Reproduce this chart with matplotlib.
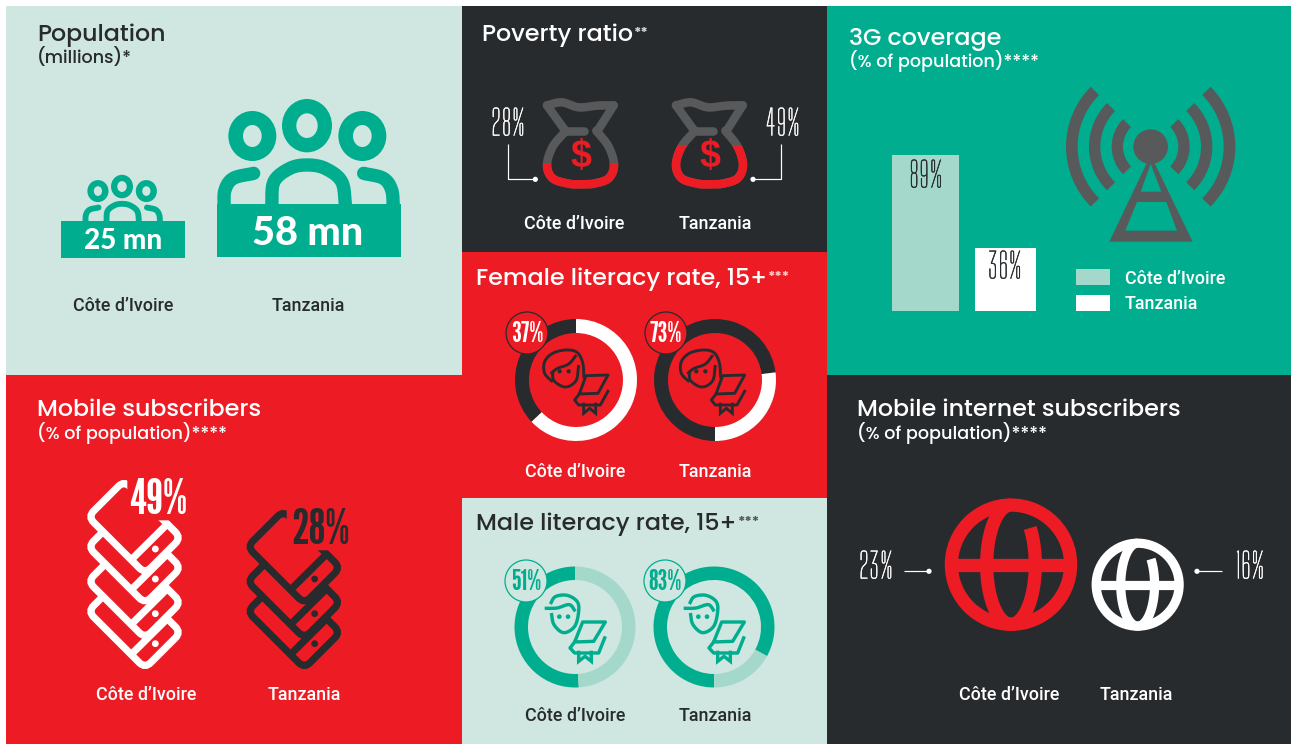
import numpy as np
import matplotlib
matplotlib.use("Agg")
import matplotlib.pyplot as plt
import matplotlib.patheffects as pe
from matplotlib.patches import Rectangle, Ellipse, Circle, Wedge, PathPatch, Polygon
from matplotlib.path import Path
import logging
logging.getLogger("matplotlib.font_manager").setLevel(logging.ERROR)

# ---------- data ----------
countries = ["Côte d’Ivoire", "Tanzania"]
population_mn = [25, 58]
poverty_pct = [28, 49]
female_literacy_pct = [37, 73]
male_literacy_pct = [51, 83]
coverage_3g_pct = [89, 36]
mobile_subs_pct = [49, 28]
mobile_internet_pct = [23, 16]

W, H = 1291, 744
DARK, RED, GREEN, LIGHT, MINT, GREY = "#282b2e", "#ed1c24", "#00ae8f", "#cfe7e0", "#a4d8cb", "#58595b"

NARROW = ["Big Shoulders Display", "Antonio", "Pathway Gothic One", "Roboto Condensed", "Liberation Sans"]
HEAVY = ["League Gothic", "Anton", "Roboto Condensed", "Liberation Sans"]
HEAD = ["Poppins", "Inter", "DejaVu Sans"]
LAB = ["Roboto", "Lato", "DejaVu Sans"]
NUM = ["Lato", "DejaVu Sans"]

fig = plt.figure(figsize=(W / 100, H / 100), dpi=100, facecolor="white")
bg = fig.add_axes([0, 0, 1, 1], zorder=0)
ov = fig.add_axes([0, 0, 1, 1], zorder=2)
for a in (bg, ov):
    a.set_xlim(0, W)
    a.set_ylim(H, 0)
    a.axis("off")
ov.patch.set_alpha(0)


def px_axes(x0, y0, x1, y1):
    a = fig.add_axes([x0 / W, 1 - y1 / H, (x1 - x0) / W, (y1 - y0) / H], zorder=1)
    a.patch.set_alpha(0)
    return a


LW = 0.72  # pixels to points


def smooth(pts, closed=False, n=14):
    p = np.asarray(pts, float)
    if closed:
        q = np.vstack([p[-1], p, p[0], p[1]])
    else:
        q = np.vstack([2 * p[0] - p[1], p, 2 * p[-1] - p[-2]])
    out = []
    for i in range(1, len(q) - 2):
        for t in np.linspace(0, 1, n, endpoint=False):
            out.append(0.5 * ((2 * q[i]) + (-q[i - 1] + q[i + 1]) * t
                              + (2 * q[i - 1] - 5 * q[i] + 4 * q[i + 1] - q[i + 2]) * t ** 2
                              + (-q[i - 1] + 3 * q[i] - 3 * q[i + 1] + q[i + 2]) * t ** 3))
    out.append(q[-2])
    return np.array(out)


def z(pts, ox, oy, dx=0, dy=0):
    return np.array([(ox + (x + dx) / 3, oy + (y + dy) / 3) for x, y in pts])


def stroke(xy, color, w, cap="butt", join="round", clip=None, zo=3):
    ln, = ov.plot(xy[:, 0], xy[:, 1], color=color, lw=w * LW, solid_capstyle=cap,
                  solid_joinstyle=join, zorder=zo)
    if clip is not None:
        ln.set_clip_path(clip)
    return ln


def label(x, y, s, color, size=12.9, ha="center", **kw):
    return ov.text(x, y, s, color=color, fontsize=size, ha=ha, va="baseline",
                   family=LAB, fontweight="medium", zorder=8, **kw)


def title(x, y, s, color, size=17.1, stars=None, star_color=None):
    t = ov.text(x, y, s, color=color, fontsize=size, ha="left", va="baseline",
                family=HEAD, fontweight="medium", zorder=8)
    if stars:
        ov.annotate(stars, xy=(1, 0.85), xycoords=t, xytext=(1, 0), textcoords="offset points",
                    ha="left", va="top", fontsize=10, color=star_color or color,
                    family=HEAD, fontweight="bold", zorder=8)
    return t


def sub(x, y, s, color):
    return ov.text(x, y, s, color=color, fontsize=12.7, ha="left", va="baseline",
                   family=HEAD, fontweight="medium", zorder=8)


def thin(x, y, s, color, size=25):
    return ov.text(x, y, s, color=color, fontsize=size, ha="center", va="center", family=NARROW, zorder=8,
                   path_effects=[pe.withStroke(linewidth=0.35, foreground=color)])


# ---------- panels ----------
for (x0, y0, x1, y1, c) in [(6, 6, 462, 375, LIGHT), (462, 6, 827, 252, DARK), (462, 252, 827, 498, RED),
                            (462, 498, 827, 744, LIGHT), (827, 6, 1291, 375, GREEN),
                            (6, 375, 462, 744, RED), (827, 375, 1291, 744, DARK)]:
    bg.add_patch(Rectangle((x0, y0), x1 - x0, y1 - y0, fc=c, ec="none"))

# ---------- population ----------
title(37, 41, "Population", DARK)
sub(37, 63, "(millions)*", DARK)


def people(cx, base, s, rect, val, fsize, tx, ty):
    c = GREEN
    for dx, dy, rx, ry, ix, iy in [(-164, -204, 72, 75, 28, 33), (166, -204, 72, 75, 28, 33),
                                   (0, -235, 75, 80, 32, 37)]:
        X, Y = cx + dx * s / 3, base + dy * s / 3
        ov.add_patch(Ellipse((X, Y), 2 * rx * s / 3, 2 * ry * s / 3, fc=c, ec="none", zorder=3))
        ov.add_patch(Ellipse((X, Y), 2 * ix * s / 3, 2 * iy * s / 3, fc=LIGHT, ec="none", zorder=3))
    w = 40 * s / 3
    for pts, cap in (([(-106, 8), (-99, -67), (-51, -107), (0, -117), (54, -107), (104, -67), (116, 8)], "butt"),
                     ([(-249, 8), (-246, -42), (-221, -77), (-160, -92)], "round"),
                     ([(259, 8), (254, -42), (229, -77), (170, -92)], "round")):
        q = [(cx + a * s / 3, base + b * s / 3) for a, b in pts]
        stroke(smooth(q), c, w, cap=cap)
    ov.add_patch(Rectangle((rect[0], rect[1]), rect[2] - rect[0], rect[3] - rect[1], fc=c, ec="none", zorder=4))
    ov.text(tx, ty, f"{val} mn", color="white", fontsize=fsize, ha="center", va="baseline",
            family=NUM, fontweight="black", zorder=8)


people(307, 204, 1.0, (217, 204, 401, 257), population_mn[1], 28.5, 308, 245)
people(122, 221, 0.44, (61, 221, 185, 258), population_mn[0], 20, 123, 249)
label(123, 311, countries[0], DARK)
label(308, 311, countries[1], DARK)

# ---------- poverty ----------
title(482, 41, "Poverty ratio", "white", stars="**", star_color="#d8d8d8")
BAG_TOP, BAG_BOT = 298, 565
bag_strokes = [
    smooth([(255, 316), (300, 307), (350, 322), (405, 317), (455, 316)]),
    np.array([(255, 316), (312, 395)], float),
    np.array([(455, 316), (405, 395)], float),
    np.array([(305, 392), (367, 392)], float),
    smooth([(312, 392), (272, 440), (255, 495), (272, 535), (320, 551), (355, 553),
            (395, 551), (440, 535), (456, 495), (440, 440), (403, 392)]),
]
for i, (off, v) in enumerate(zip([0, 387], poverty_pct)):
    level = BAG_BOT / 3 - v / 100 * (BAG_BOT - BAG_TOP) / 3
    clip = Rectangle((0, level), W, 400, transform=ov.transData)
    for s in bag_strokes:
        xy = z(s, 462, 0, dx=off)
        stroke(xy, GREY, 8.5, cap="round")
        stroke(xy, RED, 8.5, cap="round", clip=clip, zo=4)
    ov.text(581 + off / 3, 157, "$", color=RED, fontsize=27, ha="center", va="center",
            family="Liberation Sans", fontweight="bold", zorder=5)
conn = [[(137, 432), (137, 538), (220, 538)], [(957, 432), (957, 538), (873, 538)]]
for pts, (tx, v) in zip(conn, [(508, poverty_pct[0]), (783, poverty_pct[1])]):
    xy = z(pts, 462, 0)
    stroke(xy, "white", 1.2, join="miter")
    ov.add_patch(Circle(xy[-1], 2.6, fc="white", ec="none", zorder=5))
    thin(tx, 125, f"{v}%", "white")
label(574, 229, countries[0], "white")
label(715, 229, countries[1], "white")


# ---------- literacy donuts ----------
def donut(cx, cy, r, w, v, i, c_on, c_off):
    a = px_axes(cx - r, cy - r, cx + r, cy + r)
    a.pie([v, 100 - v], colors=[c_on, c_off], startangle=[90, 270][i], counterclock=i == 0,
          radius=1, wedgeprops=dict(width=w / r, linewidth=0))
    a.set_xlim(-1, 1)
    a.set_ylim(-1, 1)


def badge(x, y, v, fc, ec, tc):
    ov.add_patch(Circle((x, y), 21, fc=fc, ec=ec, lw=0.9, zorder=5))
    ov.text(x, y + 0.5, f"{v}%", color=tc, fontsize=20, ha="center", va="center", family=HEAVY, zorder=8)


def book(off, O, c, outline, ribbon, w):
    stroke(z(outline, *O, dx=off), c, w, join="round")
    stroke(z(ribbon, *O, dx=off), c, w, join="miter")


def female_icon(off):
    c = DARK
    O = (462, 250)
    hair = smooth([(272, 396), (248, 370), (248, 335), (272, 310), (312, 300), (345, 307), (362, 338), (366, 385)])
    face = smooth([(272, 362), (276, 392), (310, 411), (342, 392), (350, 345)])
    bang = smooth([(266, 372), (285, 356), (320, 342), (343, 315)])
    for s in (hair, face, bang):
        stroke(z(s, *O, dx=off), c, 2.9)
    for ex in (293, 320):
        ov.add_patch(Circle(tuple(z([(ex + off, 364)], *O)[0]), 2.1, fc=c, ec="none", zorder=5))
    book(off, O, c, [(352, 432), (372, 377), (438, 375), (408, 430), (352, 432), (338, 450), (350, 465), (415, 465), (440, 420)],
         [(365, 458), (365, 490), (383, 475), (401, 490), (401, 458)], 2.9)


def male_icon(off):
    c = GREEN
    O = (462, 498)
    face = smooth([(268, 345), (276, 380), (305, 404), (338, 385), (350, 340), (345, 310), (315, 292),
                   (280, 296), (265, 318)])
    swoosh = smooth([(248, 331), (285, 330), (322, 320), (340, 340)])
    for s in (face, swoosh):
        stroke(z(s, *O, dx=off), c, 3.4)
    for ex in (292, 318):
        ov.add_patch(Circle(tuple(z([(ex + off, 356)], *O)[0]), 2.3, fc=c, ec="none", zorder=5))
    book(off, O, c, [(338, 432), (362, 372), (430, 372), (395, 430), (338, 432), (324, 450), (338, 465), (410, 465), (430, 415)],
         [(350, 458), (350, 490), (369, 475), (388, 490), (388, 458)], 3.4)


title(476, 285, "Female literacy rate, 15+", "white", stars="***", star_color="#f8cfcf")
for i, (cx, v) in enumerate(zip([576, 715], female_literacy_pct)):
    donut(cx, 380, 61, 14, v, i, DARK, "white")
    badge([527, 666][i], 333, v, RED, DARK, "white")
    female_icon([0, 410][i])
    label([575, 715][i], 477, countries[i], "white")

title(476, 530, "Male literacy rate, 15+", DARK, stars="***", star_color="#555555")
for i, (cx, v) in enumerate(zip([575, 714], male_literacy_pct)):
    donut(cx, 627, 60.5, 13.5, v, i, GREEN, MINT)
    badge([526, 665][i], 581, v, LIGHT, GREEN, GREEN)
    male_icon([0, 417][i])
    label([575, 715][i], 721, countries[i], DARK)

# ---------- 3G ----------
title(849, 45, "3G coverage", "white")
sub(849, 67, "(% of population)****", "white")
bar_ax = px_axes(892, 155, 1036, 311)
bar_ax.bar([33.5, 113], coverage_3g_pct, width=[67, 61], color=[MINT, "white"], linewidth=0)
bar_ax.set_xlim(0, 144)
bar_ax.set_ylim(0, coverage_3g_pct[0])
bar_ax.axis("off")
for x, y, v in zip([926, 1005], [177, 268], coverage_3g_pct):
    thin(x, y, f"{v}%", DARK)

tc = (827 + 971 / 3, 440 / 3)
for ro, ri in [(254, 219), (185, 151), (117, 83)]:
    for a0, a1 in [(135, 225), (-45, 45)]:
        ov.add_patch(Wedge(tc, ro / 3, a0, a1, width=(ro - ri) / 3, fc=GREY, ec="none", zorder=3))
ov.add_patch(Polygon(z([(971, 465), (847, 725), (1097, 725)], 827, 0), fc=GREY, ec="none", zorder=3))
for hole in ([(971, 492), (1003, 575), (941, 575)], [(930, 606), (1018, 606), (1050, 692), (895, 692)]):
    ov.add_patch(Polygon(z(hole, 827, 0), fc=GREEN, ec="none", zorder=4))
ov.add_patch(Circle(tc, 52 / 3, fc=GREY, ec="none", zorder=5))
for (y0, y1), c, s, by in zip([(269, 285), (295, 311)], [MINT, "white"], countries, [284, 309]):
    ov.add_patch(Rectangle((1076, y0), 34, y1 - y0, fc=c, ec="none", zorder=3))
    label(1125, by, s, "white", ha="left")

# ---------- mobile subscribers ----------
title(37, 416, "Mobile subscribers", "white")
sub(37, 439, "(% of population)****", "white")


def rounded(pts, r):
    p = np.asarray(pts, float)
    verts, codes = [], []
    n = len(p)
    for i in range(n):
        a, b, c = p[i - 1], p[i], p[(i + 1) % n]
        u = (a - b) / np.linalg.norm(a - b)
        v = (c - b) / np.linalg.norm(c - b)
        verts += [b + u * r, b, b + v * r]
        codes += [Path.MOVETO if i == 0 else Path.LINETO, Path.CURVE3, Path.CURVE3]
    verts.append(verts[0])
    codes.append(Path.CLOSEPOLY)
    return Path(verts, codes)


def phone(dx, dy, col, top=False):
    O = (0, 375)
    L, B, R, T = (264, 425), (435, 596), (543, 488), (372, 317)
    P = z([L, B, R, T], *O, dx=dx, dy=dy)
    ov.add_patch(PathPatch(rounded(P, 8), fc=RED, ec="none" if top else col,
                           lw=7.2 * LW, zorder=3))
    if top:
        path = rounded(P, 8)
        # open outline: leaves the upper-right edge out where the percentage sits
        clip = Polygon(z([(230, 300), (382, 300), (382, 380), (472, 436), (560, 436), (560, 640), (230, 640)],
                         *O, dx=dx, dy=dy), transform=ov.transData, fc="none")
        pp = PathPatch(path, fc="none", ec=col, lw=7.2 * LW, zorder=3)
        ov.add_patch(pp)
        pp.set_clip_path(clip)
    stroke(z([(393, 555), (503, 446)], *O, dx=dx, dy=dy), col, 7.2)
    ov.add_patch(Circle(tuple(z([(466, 522)], *O, dx=dx, dy=dy)[0]), 3.4, fc=col, ec="none", zorder=3))


for dy in [284, 194, 90, 0]:
    phone(0, dy, "white", top=dy == 0)
for dy in [284, 194, 90]:
    phone(478, dy, DARK, top=dy == 90)
ov.text(158, 501, f"{mobile_subs_pct[0]}%", color="white", fontsize=35, ha="center", va="center",
        family=HEAVY, zorder=8)
ov.text(321, 530, f"{mobile_subs_pct[1]}%", color=DARK, fontsize=35, ha="center", va="center",
        family=HEAVY, zorder=8)
label(146, 700, countries[0], "white")
label(304, 700, countries[1], "white")

# ---------- mobile internet ----------
title(857, 416, "Mobile internet subscribers", "white")
sub(857, 439, "(% of population)****", "white")


def globe(cx, cy, v, col):
    r = v * 2.88
    w = r * 0.2
    ov.add_patch(Circle((cx, cy), r - w / 2, fc="none", ec=col, lw=w * LW, zorder=3))
    inner = r - w / 2
    stroke(np.array([(cx - inner, cy), (cx + inner, cy)]), col, w)
    t = np.radians(np.linspace(90, 270, 60))
    rx, ry = r * 0.367, r * 0.9
    stroke(np.c_[cx + rx * np.cos(t), cy - ry * np.sin(t)], col, w)
    t = np.radians(np.linspace(-90, 38, 50))
    stroke(np.c_[cx + rx * np.cos(t), cy - ry * np.sin(t)], col, w)


globe(827 + 552 / 3, 375 + 569 / 3, mobile_internet_pct[0], RED)
globe(827 + 932 / 3, 375 + 629 / 3, mobile_internet_pct[1], "white")
for (a, b, tx), v in zip([(904, 929, 876), (1222, 1197, 1250)], mobile_internet_pct):
    stroke(np.array([(a, 571.3), (b, 571.3)], float), "white", 1.2)
    ov.add_patch(Circle((b, 571.3), 2.6, fc="white", ec="none", zorder=5))
    thin(tx, 568, f"{v}%", "white")
label(1009, 700, countries[0], "white")
label(1136, 700, countries[1], "white")

fig.savefig("out.png", dpi=100, facecolor="white")
